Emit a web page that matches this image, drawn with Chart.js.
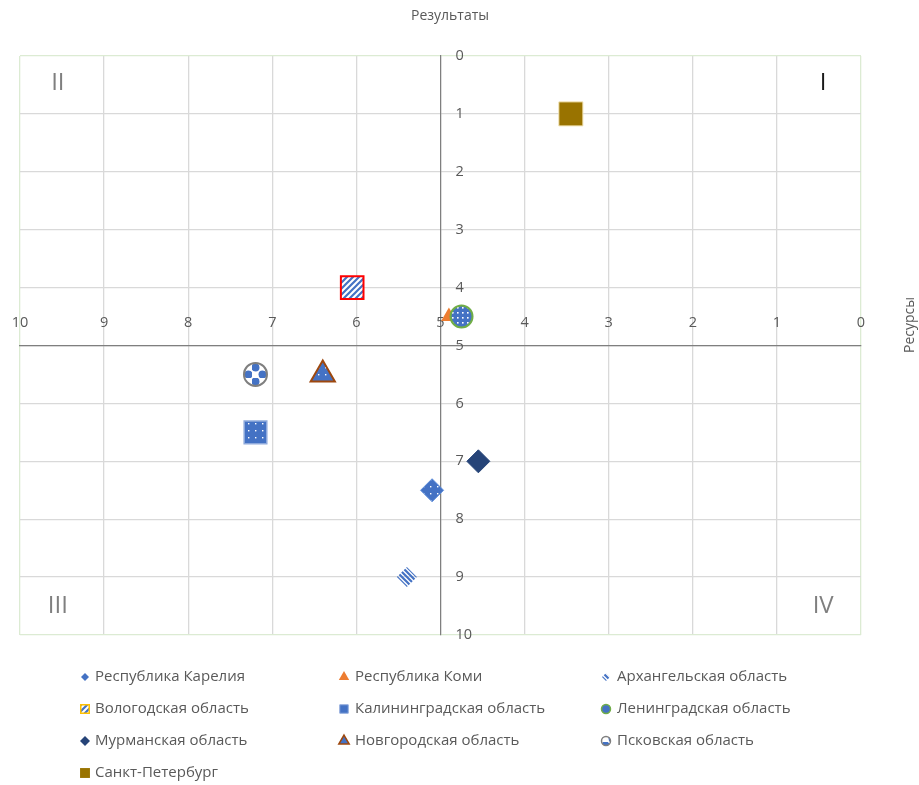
<!DOCTYPE html>
<html>
<head>
<meta charset="utf-8">
<script src="https://cdn.jsdelivr.net/npm/chart.js@4.4.1/dist/chart.umd.min.js"></script>
<style>
html,body{margin:0;padding:0;background:#ffffff;}
canvas{display:block;}
</style>
</head>
<body>
<canvas id="chart" width="919" height="785"></canvas>
<script>
// ---------------- DATA ----------------
const regions = [
  'Республика Карелия', 'Республика Коми', 'Архангельская область',
  'Вологодская область', 'Калининградская область', 'Ленинградская область',
  'Мурманская область', 'Новгородская область', 'Псковская область',
  'Санкт-Петербург'
];
const resultsX   = [5.1, 4.9, 5.4, 6.05, 7.2, 4.75, 4.55, 6.4, 7.2, 3.45];
const resourcesY = [7.5, 4.5, 9.0, 4.0, 6.5, 4.5, 7.0, 5.5, 5.5, 1.0];
const tickValues = [0, 1, 2, 3, 4, 5, 6, 7, 8, 9, 10];
const tickLabels = ['0', '1', '2', '3', '4', '5', '6', '7', '8', '9', '10'];
const quadrantLabels = ['I', 'II', 'III', 'IV'];
const quadrantX = [0.45, 9.55, 9.55, 0.45];
const quadrantY = [0.47, 0.47, 9.5, 9.5];
const xTitle = 'Результаты';
const yTitle = 'Ресурсы';
const axisCross = 5;

// ---------------- STYLES ----------------
const FONT = '"Open Sans", "Noto Sans", sans-serif';
const TEXT = '#595959';
const BLUE = '#4472C4';

function makePattern(type, fg, bg) {
  const sizes = {diag: 6, diagDown: 5, dots: 5, sparse: 7, checker: 14};
  const s = sizes[type];
  const c = document.createElement('canvas');
  c.width = s; c.height = s;
  const g = c.getContext('2d');
  if (bg) { g.fillStyle = bg; g.fillRect(0, 0, s, s); }
  g.fillStyle = fg; g.strokeStyle = fg;
  if (type === 'diag') {
    g.lineWidth = 2.2;
    g.beginPath();
    g.moveTo(-1, s + 1); g.lineTo(s + 1, -1);
    g.moveTo(-1, 1); g.lineTo(1, -1);
    g.moveTo(s - 1, s + 1); g.lineTo(s + 1, s - 1);
    g.stroke();
  } else if (type === 'diagDown') {
    g.lineWidth = 2.2;
    g.beginPath();
    g.moveTo(-1, -1); g.lineTo(s + 1, s + 1);
    g.moveTo(s - 1, -1); g.lineTo(s + 1, 1);
    g.moveTo(-1, s - 1); g.lineTo(1, s + 1);
    g.stroke();
  } else if (type === 'dots') {
    g.fillRect(2, 2, 1.6, 1.6);
  } else if (type === 'sparse') {
    g.fillRect(3, 3, 1.4, 1.4);
  } else if (type === 'checker') {
    g.beginPath(); g.arc(3.5, 3.5, 4, 0, Math.PI * 2); g.fill();
    g.beginPath(); g.arc(10.5, 10.5, 4, 0, Math.PI * 2); g.fill();
  }
  const ctx = document.createElement('canvas').getContext('2d');
  return ctx.createPattern(c, 'repeat');
}

const seriesStyles = [
  {style: 'rectRot',  r: 11.5, fill: makePattern('sparse', '#ffffff', BLUE), stroke: '#5b8bd9', bw: 1,
   lr: 4,  lfill: BLUE, lstroke: '#ffffff', lbw: 0},
  {style: 'triangle', r: 9,    fill: '#ED7D31', stroke: '#ED7D31', bw: 0,
   lr: 6,  lfill: '#ED7D31', lstroke: '#ED7D31', lbw: 0},
  {style: 'rectRot',  r: 10,   fill: makePattern('diagDown', BLUE, null), stroke: 'rgba(0,0,0,0)', bw: 0,
   lr: 4,  lfill: makePattern('diagDown', BLUE, '#ffffff'), lstroke: 'rgba(0,0,0,0)', lbw: 0},
  {style: 'rect',     r: 16,   fill: makePattern('diag', BLUE, '#ffffff'), stroke: '#FF0000', bw: 2,
   lr: 6,  lfill: makePattern('diag', BLUE, '#ffffff'), lstroke: '#FFC000', lbw: 1.5},
  {style: 'rect',     r: 16,   fill: makePattern('sparse', '#ffffff', BLUE), stroke: '#8FAADC', bw: 1.5,
   lr: 6,  lfill: BLUE, lstroke: '#8FAADC', lbw: 1},
  {style: 'circle',   r: 11,   fill: makePattern('dots', '#ffffff', BLUE), stroke: '#70AD47', bw: 2,
   lr: 4.5, lfill: BLUE, lstroke: '#70AD47', lbw: 1.5},
  {style: 'rectRot',  r: 11.5, fill: '#264478', stroke: '#264478', bw: 1,
   lr: 5,  lfill: '#264478', lstroke: '#264478', lbw: 0},
  {style: 'triangle', r: 14,   fill: makePattern('sparse', '#ffffff', BLUE), stroke: '#9E480E', bw: 2,
   lr: 6,  lfill: BLUE, lstroke: '#9E480E', lbw: 1.5},
  {style: 'circle',   r: 11.5, fill: makePattern('checker', BLUE, '#ffffff'), stroke: '#7f7f7f', bw: 2,
   lr: 4.5, lfill: makePattern('checker', BLUE, '#ffffff'), lstroke: '#7f7f7f', lbw: 1.5},
  {style: 'rect',     r: 17,   fill: '#997300', stroke: '#f2e3b3', bw: 1,
   lr: 7,  lfill: '#997300', lstroke: '#997300', lbw: 0}
];

function drawShape(ctx, style, x, y, r) {
  ctx.beginPath();
  if (style === 'circle') {
    ctx.arc(x, y, r, 0, Math.PI * 2);
  } else if (style === 'rect') {
    const s = r * Math.SQRT1_2;
    ctx.rect(x - s, y - s, 2 * s, 2 * s);
  } else if (style === 'rectRot') {
    ctx.moveTo(x, y - r); ctx.lineTo(x + r, y); ctx.lineTo(x, y + r); ctx.lineTo(x - r, y);
    ctx.closePath();
  } else if (style === 'triangle') {
    ctx.moveTo(x, y - r); ctx.lineTo(x + r * 0.866, y + r / 2); ctx.lineTo(x - r * 0.866, y + r / 2);
    ctx.closePath();
  }
}

const legendCols = [85, 344, 606];
const legendTextCols = [95, 355, 617];
const legendRows = [677, 709, 741, 773];

const overlay = {
  id: 'overlay',
  beforeDatasetsDraw(chart) {
    const {ctx} = chart;
    const xs = chart.scales.x, ys = chart.scales.y;
    const ax = xs.getPixelForValue(axisCross);
    const ay = ys.getPixelForValue(axisCross);
    ctx.save();
    ctx.font = '14.5px ' + FONT;
    ctx.fillStyle = TEXT;
    ctx.textBaseline = 'middle';
    ctx.textAlign = 'center';
    tickValues.forEach((v, i) => ctx.fillText(tickLabels[i], xs.getPixelForValue(v), ay - 23));
    ctx.textAlign = 'left';
    tickValues.forEach((v, i) => ctx.fillText(tickLabels[i], ax + 15, ys.getPixelForValue(v)));
    // quadrant labels
    ctx.font = '24px ' + FONT;
    ctx.textAlign = 'center';
    quadrantLabels.forEach((t, i) => {
      ctx.fillStyle = i === 0 ? '#1a1a1a' : '#7f7f7f';
      ctx.fillText(t, xs.getPixelForValue(quadrantX[i]), ys.getPixelForValue(quadrantY[i]));
    });
    ctx.restore();
  },
  afterDraw(chart) {
    const {ctx} = chart;
    ctx.save();
    ctx.fillStyle = TEXT;
    ctx.font = '14px ' + FONT;
    ctx.textAlign = 'center';
    ctx.textBaseline = 'middle';
    ctx.fillText(xTitle, 450, 16);
    ctx.save();
    ctx.translate(910, 325);
    ctx.rotate(-Math.PI / 2);
    ctx.fillText(yTitle, 0, 0);
    ctx.restore();
    // legend
    ctx.font = '15px ' + FONT;
    ctx.textAlign = 'left';
    regions.forEach((name, i) => {
      const st = seriesStyles[i];
      const col = i % 3, row = Math.floor(i / 3);
      const mx = legendCols[col], my = legendRows[row];
      drawShape(ctx, st.style, mx, my, st.lr);
      ctx.fillStyle = st.lfill;
      ctx.fill();
      if (st.lbw > 0) { ctx.lineWidth = st.lbw; ctx.strokeStyle = st.lstroke; ctx.stroke(); }
      ctx.fillStyle = TEXT;
      ctx.fillText(name, legendTextCols[col], my);
    });
    ctx.restore();
  }
};

const gridColor = (c) => (c.tick && (c.tick.value === 0 || c.tick.value === 10)) ? '#dcebd3' : '#d9d9d9';

const datasets = regions.map((name, i) => ({
  label: name,
  data: [{x: resultsX[i], y: resourcesY[i]}],
  showLine: false,
  pointStyle: seriesStyles[i].style,
  pointRadius: seriesStyles[i].r,
  pointHoverRadius: seriesStyles[i].r,
  pointBackgroundColor: seriesStyles[i].fill,
  pointBorderColor: seriesStyles[i].stroke,
  pointBorderWidth: seriesStyles[i].bw,
  pointHoverBorderWidth: seriesStyles[i].bw,
  order: regions.length - i
}));

new Chart(document.getElementById('chart'), {
  type: 'scatter',
  data: {datasets},
  options: {
    responsive: false,
    animation: false,
    devicePixelRatio: 1,
    layout: {padding: {left: 20, top: 56, right: 58, bottom: 150}},
    plugins: {legend: {display: false}, tooltip: {enabled: false}, title: {display: false}},
    scales: {
      x: {
        type: 'linear', min: 0, max: 10, reverse: true,
        position: {y: axisCross},
        ticks: {display: false, stepSize: 1},
        grid: {color: gridColor, lineWidth: 1.3, drawTicks: false},
        border: {display: true, color: '#7f7f7f', width: 1.2}
      },
      y: {
        type: 'linear', min: 0, max: 10, reverse: true,
        position: {x: axisCross},
        ticks: {display: false, stepSize: 1},
        grid: {color: gridColor, lineWidth: 1.3, drawTicks: false},
        border: {display: true, color: '#7f7f7f', width: 1.2}
      }
    }
  },
  plugins: [overlay]
});
</script>
</body>
</html>
